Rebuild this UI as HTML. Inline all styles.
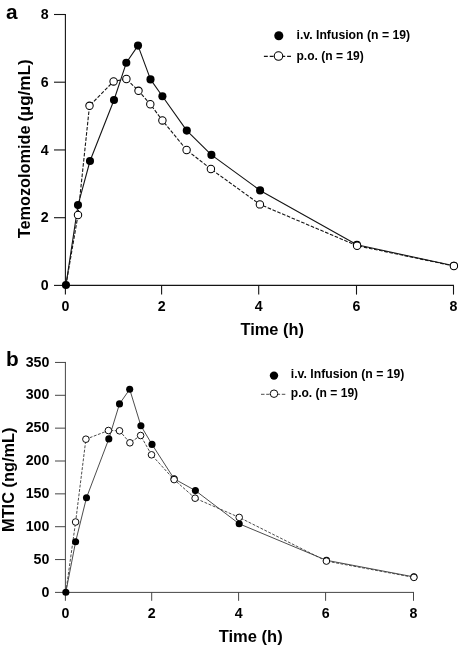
<!DOCTYPE html>
<html lang="en"><head><meta charset="utf-8"><title>Temozolomide and MTIC plasma concentration-time profiles</title>
<style>html,body{margin:0;padding:0;background:#fff}body{width:460px;height:646px;overflow:hidden}svg{display:block;filter:grayscale(1)}
text{font-family:'Liberation Sans', sans-serif;font-weight:700;fill:#000}</style>
</head><body>
<svg width="460" height="646" viewBox="0 0 460 646">
<rect width="460" height="646" fill="#fff"/>
<g stroke="#141414" stroke-width="1.1" fill="none">
<path d="M65.4 14.0V285.4H454.0"/>
<path d="M54.0 285.4H65.4"/>
<path d="M54.0 217.7H65.4"/>
<path d="M54.0 149.95H65.4"/>
<path d="M54.0 82.2H65.4"/>
<path d="M54.0 14.5H65.4"/>
<path d="M65.4 285.4V294.6"/>
<path d="M161.6 285.4V294.6"/>
<path d="M258.7 285.4V294.6"/>
<path d="M356.5 285.4V294.6"/>
<path d="M453.5 285.4V294.6"/>
</g>
<text x="48.7" y="290.0" font-size="14.2" text-anchor="end">0</text>
<text x="48.7" y="222.3" font-size="14.2" text-anchor="end">2</text>
<text x="48.7" y="154.55" font-size="14.2" text-anchor="end">4</text>
<text x="48.7" y="86.8" font-size="14.2" text-anchor="end">6</text>
<text x="48.7" y="19.1" font-size="14.2" text-anchor="end">8</text>
<text x="65.4" y="310.7" font-size="14.2" text-anchor="middle">0</text>
<text x="161.6" y="310.7" font-size="14.2" text-anchor="middle">2</text>
<text x="258.7" y="310.7" font-size="14.2" text-anchor="middle">4</text>
<text x="356.5" y="310.7" font-size="14.2" text-anchor="middle">6</text>
<text x="453.5" y="310.7" font-size="14.2" text-anchor="middle">8</text>
<polyline points="65.95,285.05 78.0,205.1 90.0,161.0 114.0,100.0 126.3,62.8 138.0,45.6 150.5,79.4 162.4,96.2 186.8,130.6 211.4,154.9 260.1,190.4 356.9,244.8 453.9,265.8" fill="none" stroke="#141414" stroke-width="1.1" stroke-linejoin="round"/>
<polyline points="65.95,285.05 78.0,215.0 89.5,105.8 113.6,81.4 126.4,79.0 138.5,90.8 150.3,104.2 162.4,120.4 186.6,150.0 210.9,169.0 259.9,204.4 357.1,245.7 453.9,266.0" fill="none" stroke="#141414" stroke-width="1.1" stroke-dasharray="3.6 1.6" stroke-linejoin="round"/>
<circle cx="65.95" cy="285.05" r="4.05" fill="#000"/>
<circle cx="78.0" cy="205.1" r="4.05" fill="#000"/>
<circle cx="90.0" cy="161.0" r="4.05" fill="#000"/>
<circle cx="114.0" cy="100.0" r="4.05" fill="#000"/>
<circle cx="126.3" cy="62.8" r="4.05" fill="#000"/>
<circle cx="138.0" cy="45.6" r="4.05" fill="#000"/>
<circle cx="150.5" cy="79.4" r="4.05" fill="#000"/>
<circle cx="162.4" cy="96.2" r="4.05" fill="#000"/>
<circle cx="186.8" cy="130.6" r="4.05" fill="#000"/>
<circle cx="211.4" cy="154.9" r="4.05" fill="#000"/>
<circle cx="260.1" cy="190.4" r="4.05" fill="#000"/>
<circle cx="356.9" cy="244.8" r="4.05" fill="#000"/>
<circle cx="453.9" cy="265.8" r="4.05" fill="#000"/>
<circle cx="78.0" cy="215.0" r="3.7" fill="#fff" stroke="#000" stroke-width="1.05"/>
<circle cx="89.5" cy="105.8" r="3.7" fill="#fff" stroke="#000" stroke-width="1.05"/>
<circle cx="113.6" cy="81.4" r="3.7" fill="#fff" stroke="#000" stroke-width="1.05"/>
<circle cx="126.4" cy="79.0" r="3.7" fill="#fff" stroke="#000" stroke-width="1.05"/>
<circle cx="138.5" cy="90.8" r="3.7" fill="#fff" stroke="#000" stroke-width="1.05"/>
<circle cx="150.3" cy="104.2" r="3.7" fill="#fff" stroke="#000" stroke-width="1.05"/>
<circle cx="162.4" cy="120.4" r="3.7" fill="#fff" stroke="#000" stroke-width="1.05"/>
<circle cx="186.6" cy="150.0" r="3.7" fill="#fff" stroke="#000" stroke-width="1.05"/>
<circle cx="210.9" cy="169.0" r="3.7" fill="#fff" stroke="#000" stroke-width="1.05"/>
<circle cx="259.9" cy="204.4" r="3.7" fill="#fff" stroke="#000" stroke-width="1.05"/>
<circle cx="357.1" cy="245.7" r="3.7" fill="#fff" stroke="#000" stroke-width="1.05"/>
<circle cx="453.9" cy="266.0" r="3.7" fill="#fff" stroke="#000" stroke-width="1.05"/>
<circle cx="278.8" cy="35.7" r="4.55" fill="#000"/>
<path d="M263.9 56.35H291.2" stroke="#141414" stroke-width="1.1" stroke-dasharray="3.9 1.9" fill="none"/>
<circle cx="278.5" cy="56.05" r="4.25" fill="#fff" stroke="#000" stroke-width="1.05"/>
<text x="296.5" y="38.8" font-size="12.3" text-anchor="start" textLength="113.6" lengthAdjust="spacingAndGlyphs">i.v. Infusion (n = 19)</text>
<text x="296.5" y="59.5" font-size="12.3" text-anchor="start" textLength="67.3" lengthAdjust="spacingAndGlyphs">p.o. (n = 19)</text>
<text x="6.0" y="18.65" font-size="20.8" text-anchor="start">a</text>
<text transform="translate(29.5 238.3) rotate(-90)" font-size="16.2" textLength="112.8" lengthAdjust="spacingAndGlyphs">Temozolomide</text>
<text transform="translate(29.5 121.4) rotate(-90)" font-size="16.2" textLength="62.1" lengthAdjust="spacingAndGlyphs">(µg/mL)</text>
<text x="240.5" y="335.3" font-size="16.3" text-anchor="start" textLength="63.4" lengthAdjust="spacingAndGlyphs">Time (h)</text>
<g stroke="#3c3c3c" stroke-width="0.95" fill="none">
<path d="M65.4 361.95V592.4H414.0"/>
<path d="M55.0 592.4H65.4"/>
<path d="M55.0 559.55H65.4"/>
<path d="M55.0 526.7H65.4"/>
<path d="M55.0 493.85H65.4"/>
<path d="M55.0 461.0H65.4"/>
<path d="M55.0 428.15H65.4"/>
<path d="M55.0 395.3H65.4"/>
<path d="M55.0 362.45H65.4"/>
<path d="M65.4 592.4V600.8"/>
<path d="M151.7 592.4V600.8"/>
<path d="M238.6 592.4V600.8"/>
<path d="M325.6 592.4V600.8"/>
<path d="M413.5 592.4V600.8"/>
</g>
<text x="49.3" y="597.4" font-size="14.2" text-anchor="end">0</text>
<text x="49.3" y="564.45" font-size="14.2" text-anchor="end">50</text>
<text x="49.3" y="530.9" font-size="14.2" text-anchor="end">100</text>
<text x="49.3" y="498.15" font-size="14.2" text-anchor="end">150</text>
<text x="49.3" y="464.8" font-size="14.2" text-anchor="end">200</text>
<text x="49.3" y="431.95" font-size="14.2" text-anchor="end">250</text>
<text x="49.3" y="399.2" font-size="14.2" text-anchor="end">300</text>
<text x="49.3" y="366.65" font-size="14.2" text-anchor="end">350</text>
<text x="65.4" y="617.6" font-size="14.2" text-anchor="middle">0</text>
<text x="151.7" y="617.6" font-size="14.2" text-anchor="middle">2</text>
<text x="238.6" y="617.6" font-size="14.2" text-anchor="middle">4</text>
<text x="325.6" y="617.6" font-size="14.2" text-anchor="middle">6</text>
<text x="413.5" y="617.6" font-size="14.2" text-anchor="middle">8</text>
<polyline points="65.85,592.2 75.6,541.8 86.5,497.7 108.8,438.9 119.5,403.9 129.7,389.3 140.9,425.8 152.0,444.4 174.1,478.8 195.4,490.6 239.2,523.8 326.5,560.3 413.9,576.9" fill="none" stroke="#3c3c3c" stroke-width="0.92" stroke-linejoin="round"/>
<polyline points="65.85,592.2 75.6,522.0 85.9,439.2 108.4,430.5 119.5,430.8 129.9,442.8 140.6,435.5 151.5,454.8 174.1,479.6 195.1,498.2 239.2,517.4 326.4,561.1 413.9,577.4" fill="none" stroke="#3c3c3c" stroke-width="0.92" stroke-dasharray="2.9 1.5" stroke-linejoin="round"/>
<circle cx="65.85" cy="592.2" r="3.55" fill="#000"/>
<circle cx="75.6" cy="541.8" r="3.55" fill="#000"/>
<circle cx="86.5" cy="497.7" r="3.55" fill="#000"/>
<circle cx="108.8" cy="438.9" r="3.55" fill="#000"/>
<circle cx="119.5" cy="403.9" r="3.55" fill="#000"/>
<circle cx="129.7" cy="389.3" r="3.55" fill="#000"/>
<circle cx="140.9" cy="425.8" r="3.55" fill="#000"/>
<circle cx="152.0" cy="444.4" r="3.55" fill="#000"/>
<circle cx="174.1" cy="478.8" r="3.55" fill="#000"/>
<circle cx="195.4" cy="490.6" r="3.55" fill="#000"/>
<circle cx="239.2" cy="523.8" r="3.55" fill="#000"/>
<circle cx="326.5" cy="560.3" r="3.55" fill="#000"/>
<circle cx="413.9" cy="576.9" r="3.55" fill="#000"/>
<circle cx="75.6" cy="522.0" r="3.3" fill="#fff" stroke="#000" stroke-width="0.95"/>
<circle cx="85.9" cy="439.2" r="3.3" fill="#fff" stroke="#000" stroke-width="0.95"/>
<circle cx="108.4" cy="430.5" r="3.3" fill="#fff" stroke="#000" stroke-width="0.95"/>
<circle cx="119.5" cy="430.8" r="3.3" fill="#fff" stroke="#000" stroke-width="0.95"/>
<circle cx="129.9" cy="442.8" r="3.3" fill="#fff" stroke="#000" stroke-width="0.95"/>
<circle cx="140.6" cy="435.5" r="3.3" fill="#fff" stroke="#000" stroke-width="0.95"/>
<circle cx="151.5" cy="454.8" r="3.3" fill="#fff" stroke="#000" stroke-width="0.95"/>
<circle cx="174.1" cy="479.6" r="3.3" fill="#fff" stroke="#000" stroke-width="0.95"/>
<circle cx="195.1" cy="498.2" r="3.3" fill="#fff" stroke="#000" stroke-width="0.95"/>
<circle cx="239.2" cy="517.4" r="3.3" fill="#fff" stroke="#000" stroke-width="0.95"/>
<circle cx="326.4" cy="561.1" r="3.3" fill="#fff" stroke="#000" stroke-width="0.95"/>
<circle cx="413.9" cy="577.4" r="3.3" fill="#fff" stroke="#000" stroke-width="0.95"/>
<circle cx="274.0" cy="375.6" r="4.2" fill="#000"/>
<path d="M261.0 394.3H285.6" stroke="#3c3c3c" stroke-width="0.92" stroke-dasharray="3.5 1.7" fill="none"/>
<circle cx="274.0" cy="393.7" r="3.75" fill="#fff" stroke="#000" stroke-width="0.95"/>
<text x="290.8" y="378.45" font-size="12.3" text-anchor="start" textLength="113.6" lengthAdjust="spacingAndGlyphs">i.v. Infusion (n = 19)</text>
<text x="290.8" y="397.0" font-size="12.3" text-anchor="start" textLength="67.3" lengthAdjust="spacingAndGlyphs">p.o. (n = 19)</text>
<text x="6.1" y="366.0" font-size="20.8" text-anchor="start">b</text>
<text transform="translate(13.8 532.0) rotate(-90)" font-size="16.3" textLength="104.5" lengthAdjust="spacingAndGlyphs">MTIC (ng/mL)</text>
<text x="218.7" y="642.3" font-size="16.3" text-anchor="start" textLength="64.0" lengthAdjust="spacingAndGlyphs">Time (h)</text>
</svg></body></html>
